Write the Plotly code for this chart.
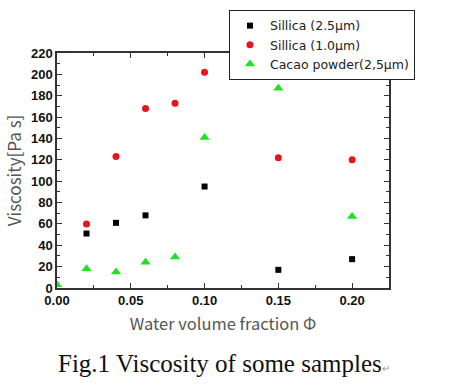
import plotly.graph_objects as go

x_black = [0.02, 0.04, 0.06, 0.10, 0.15, 0.20]
y_black = [51, 61, 68, 95, 17, 27]
x_red = [0.02, 0.04, 0.06, 0.08, 0.10, 0.15, 0.20]
y_red = [60, 123, 168, 173, 202, 122, 120]
x_green = [0.00, 0.02, 0.04, 0.06, 0.08, 0.10, 0.15, 0.20]
y_green = [3, 18, 15, 24, 29, 141, 187, 67]

names = ["Sillica (2.5\u03bcm)", "Sillica (1.0\u03bcm)", "Cacao powder(2,5\u03bcm)"]
x_ticks = [0.00, 0.05, 0.10, 0.15, 0.20]
x_tick_labels = ["0.00", "0.05", "0.10", "0.15", "0.20"]
y_ticks = list(range(0, 221, 20))

fig = go.Figure()
fig.add_trace(go.Scatter(x=x_black, y=y_black, mode="markers", name=names[0],
                         marker=dict(symbol="square", size=6, color="black")))
fig.add_trace(go.Scatter(x=x_red, y=y_red, mode="markers", name=names[1],
                         marker=dict(symbol="circle", size=7, color="#e8141c")))
fig.add_trace(go.Scatter(x=x_green, y=y_green, mode="markers", name=names[2],
                         marker=dict(symbol="triangle-up", size=9, color="#22e022")))

axis_common = dict(showline=True, linecolor="#333", linewidth=1.5, mirror="ticks",
                   ticks="inside", ticklen=5, tickcolor="#333", showgrid=False, zeroline=False,
                   automargin=False,
                   tickfont=dict(family="Liberation Sans", size=13, color="#111", weight="bold"))

fig.update_xaxes(range=[0, 0.225], tickvals=x_ticks, ticktext=x_tick_labels,
                 minor=dict(ticks="inside", ticklen=3, tickcolor="#333", dtick=0.025),
                 title=dict(text="Water volume fraction \u03a6", standoff=11,
                            font=dict(family="Noto Sans CJK JP", size=16.5, color="#555")),
                 **axis_common)
fig.update_yaxes(range=[0, 220], tickvals=y_ticks,
                 minor=dict(ticks="inside", ticklen=3, tickcolor="#333", dtick=10),
                 title=dict(text="Viscosity[Pa s]", standoff=5,
                            font=dict(family="Noto Sans CJK JP", size=17, color="#555")),
                 **axis_common)

fig.add_annotation(text="Fig.1 Viscosity of some samples<span style='font-size:10px;color:#999'>\u21b5</span>",
                   xref="paper", yref="paper", x=0.503, y=-0.323, showarrow=False,
                   xanchor="center", yanchor="middle",
                   font=dict(family="Liberation Serif", size=25, color="#111"))

fig.update_layout(
    width=457, height=387,
    margin=dict(l=57, r=68, t=53, b=99, autoexpand=False),
    paper_bgcolor="white", plot_bgcolor="white",
    showlegend=True,
    legend=dict(x=0.518, y=1.183, xanchor="left", yanchor="top",
                bordercolor="#222", borderwidth=1, bgcolor="white",
                font=dict(family="DejaVu Sans", size=12.5, color="#222"),
                entrywidth=170, entrywidthmode="pixels",
                itemsizing="trace", tracegroupgap=0),
)

fig.write_html("out.html", config={"displayModeBar": False},
               post_script="document.body.style.margin='0';")
